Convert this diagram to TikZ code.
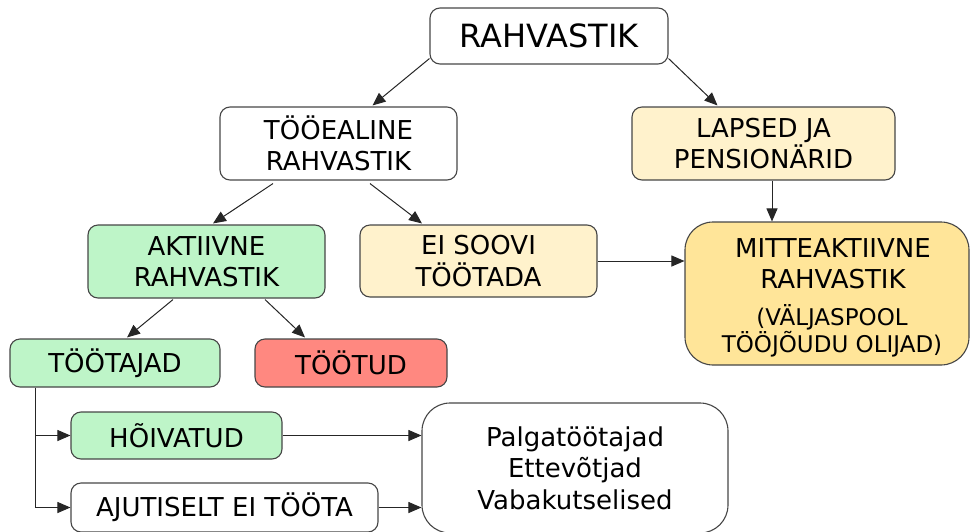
\documentclass[tikz,border=0pt]{standalone}
\usepackage{fontspec}
\setmainfont{DejaVu Sans}
\usetikzlibrary{arrows.meta,calc}

\definecolor{boxgreen}{RGB}{190,245,200}
\definecolor{boxred}{RGB}{255,136,128}
\definecolor{boxcream}{RGB}{255,242,204}
\definecolor{boxgold}{RGB}{255,229,153}
\definecolor{edgegray}{RGB}{70,70,70}

\tikzset{
  box/.style={draw=edgegray, line width=1.1pt, rounded corners=10pt, align=center,
    inner sep=0pt, font=\fontsize{26}{31.5}\selectfont},
  bigbox/.style={box, rounded corners=28pt},
  flow/.style={draw=black!85, line width=1pt, -{Triangle[length=13pt,width=11pt]}},
}

\begin{document}
\begin{tikzpicture}[x=1pt,y=-1pt]
  \useasboundingbox (0,0) rectangle (970,531);

  % boxes
  \node[box, minimum width=238pt, minimum height=56pt, font=\fontsize{32}{38}\selectfont]
    (rah) at (549,36) {RAHVASTIK};
  \node[box, minimum width=237pt, minimum height=73pt] (tooeal) at (338.5,143.5)
    {TÖÖEALINE\\RAHVASTIK};
  \node[box, fill=boxcream, minimum width=263pt, minimum height=73pt] (lapsed) at (763.5,143.5)
    {LAPSED JA\\PENSIONÄRID};
  \node[box, fill=boxgreen, minimum width=237pt, minimum height=73pt] (aktiiv) at (206.5,261.5)
    {AKTIIVNE\\RAHVASTIK};
  \node[box, fill=boxcream, minimum width=237pt, minimum height=72pt] (eisoovi) at (478.5,261)
    {EI SOOVI\\TÖÖTADA};
  \node[bigbox, fill=boxgold, minimum width=284pt, minimum height=143pt] (mitte) at (827,293.5) {};
  % the base anchor of a two-line text is the baseline of its last line
  \node[anchor=base, align=center, inner sep=0pt, font=\fontsize{26}{31}\selectfont]
    (mittetxt) at (833,288) {MITTEAKTIIVNE\\RAHVASTIK};
  \node[anchor=base, align=center, inner sep=0pt, font=\fontsize{23}{27}\selectfont]
    (mittenote) at (832,352) {(VÄLJASPOOL\\TÖÖJÕUDU OLIJAD)};
  \node[box, fill=boxgreen, minimum width=210pt, minimum height=48pt] (tootajad) at (115,363)
    {TÖÖTAJAD};
  \node[box, fill=boxred, minimum width=192pt, minimum height=48pt] (tootud) at (351,363)
    {TÖÖTUD};
  \node[box, fill=boxgreen, minimum width=211pt, minimum height=47pt] (hoiv) at (176.5,435.5)
    {HÕIVATUD};
  \node[box, minimum width=307pt, minimum height=49pt] (ajut) at (224.5,507.5)
    {AJUTISELT EI TÖÖTA};
  \node[bigbox, minimum width=306pt, minimum height=130pt] (palga) at (575,468)
    {Palgatöötajad\\Ettevõtjad\\Vabakutselised};

  % connectors
  \draw[flow] ($(rah.south west)+(0,-6)$) -- ($(tooeal.north)+(34,-1)$);
  \draw[flow] ($(rah.south east)+(0,-6)$) -- ($(lapsed.north)+(-46,-1)$);
  \draw[flow] ($(tooeal.south)+(-65.5,3)$) -- ($(aktiiv.north)+(6.5,-1)$);
  \draw[flow] ($(tooeal.south)+(31.5,3)$) -- ($(eisoovi.north)+(-56.5,-1)$);
  \draw[flow] ($(aktiiv.south)+(-33.5,1)$) -- ($(tootajad.north)+(12,-1)$);
  \draw[flow] ($(aktiiv.south)+(58.5,1)$) -- ($(tootud.north)+(-46,-1)$);
  \draw[flow] ($(lapsed.south)+(8.5,0)$) -- ($(mitte.north)+(-55,0)$);
  \draw[flow] (eisoovi.east) -- (eisoovi.east -| mitte.west);
  \coordinate (split) at ($(tootajad.south west)+(26,0)$);
  \draw[flow] (split) |- (hoiv.west);
  \draw[flow] (split) |- (ajut.west);
  \draw[flow] (hoiv.east) -- (hoiv.east -| palga.west);
  \draw[flow] (ajut.east) -- (ajut.east -| palga.west);
\end{tikzpicture}
\end{document}
